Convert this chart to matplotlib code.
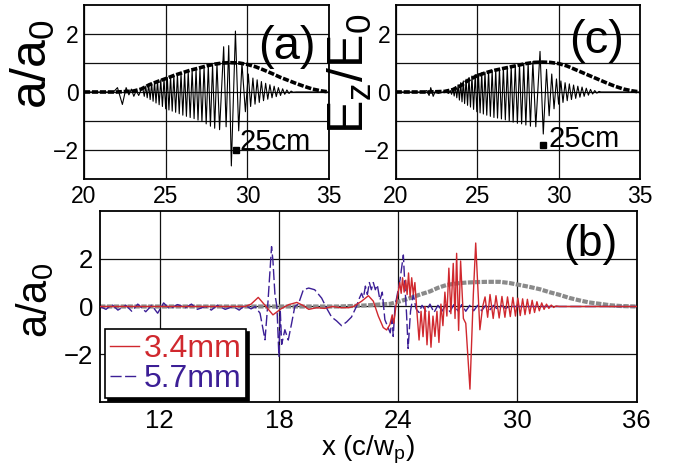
import matplotlib
matplotlib.use("Agg")
import matplotlib.pyplot as plt

plt.rcParams['font.family'] = ['Liberation Sans', 'DejaVu Sans']
plt.rcParams['mathtext.fontset'] = 'custom'
plt.rcParams['mathtext.rm'] = 'Liberation Sans'
plt.rcParams['mathtext.it'] = 'Liberation Sans'
plt.rcParams['mathtext.bf'] = 'Liberation Sans:bold'

# ---------------- Panel (a) data ----------------
a_env_x = [20, 21, 22, 23, 23.5, 24, 24.5, 25, 25.5, 26, 26.5, 27, 27.5, 28, 28.5, 29,
           29.5, 30, 30.5, 31, 31.5, 32, 32.5, 33, 33.5, 34, 34.5, 35]
a_env_y = [0, 0, 0.0, 0.03, 0.1, 0.25, 0.36, 0.46, 0.57, 0.66, 0.75, 0.82, 0.9, 0.96, 1.0, 1.01,
           1.0, 0.95, 0.87, 0.76, 0.64, 0.51, 0.4, 0.29, 0.19, 0.1, 0.04, 0.0]
a_osc_x = [20.0, 21.8, 22.05, 22.35, 22.58, 22.75, 22.9, 23.05, 23.2, 23.35, 23.5,
           23.6, 23.69, 23.78, 23.87, 23.96, 24.05, 24.14, 24.23, 24.32, 24.41, 24.50, 24.60,
           24.70, 24.80, 24.90, 25.00, 25.10, 25.20, 25.30, 25.40, 25.50, 25.61, 25.72, 25.83,
           25.94, 26.05, 26.16, 26.27, 26.38, 26.50, 26.62, 26.74, 26.86, 26.98, 27.10, 27.22,
           27.35, 27.48, 27.61, 27.74, 27.87, 28.00, 28.14, 28.30, 28.55, 28.70, 28.86, 29.02,
           29.27, 29.47, 29.67, 29.88, 30.06, 30.20, 30.34, 30.47, 30.60, 30.73, 30.86, 30.99,
           31.12, 31.25, 31.38, 31.51, 31.64, 31.77, 31.90, 32.03, 32.16, 32.29, 32.42, 32.55,
           32.68, 32.80, 33.0, 35.0]
a_osc_y = [0, 0, 0.15, -0.43, 0.15, -0.1, 0.1, -0.15, 0.05, -0.12, 0.08,
           0.12, -0.15, 0.2, -0.2, 0.26, -0.26, 0.3, -0.32, 0.34, -0.38, 0.38, -0.44,
           0.42, -0.5, 0.46, -0.58, 0.5, -0.62, 0.54, -0.66, 0.57, -0.7, 0.6, -0.75,
           0.64, -0.8, 0.67, -0.84, 0.7, -0.88, 0.74, -0.92, 0.78, -0.97, 0.82, -1.02,
           0.86, -1.1, 0.9, -1.18, 0.94, -1.25, 0.98, -1.3, 1.56, -1.2, 1.6, -2.55,
           2.1, -1.34, 0.99, -0.68, 0.62, -0.5, 0.48, -0.42, 0.42, -0.36, 0.36, -0.3,
           0.3, -0.25, 0.25, -0.2, 0.2, -0.16, 0.15, -0.12, 0.11, -0.08, 0.07, -0.05,
           0.03, -0.01, 0, 0]
a_mark = (29.3, -1.99)

# ---------------- Panel (c) data ----------------
c_env_x = [20, 21, 22, 23, 23.5, 24, 24.5, 25, 25.5, 26, 26.5, 27, 27.5, 28, 28.5, 29,
           29.5, 30, 30.5, 31, 31.5, 32, 32.5, 33, 33.5, 34, 34.5, 35]
c_env_y = [0, 0, 0, 0.02, 0.08, 0.22, 0.42, 0.56, 0.66, 0.74, 0.8, 0.86, 0.92, 0.98, 1.02, 1.03,
           1.02, 0.98, 0.9, 0.78, 0.66, 0.54, 0.42, 0.3, 0.19, 0.1, 0.04, 0.0]
c_osc_x = [20.0, 21.7, 21.9, 22.05, 22.15, 22.3, 22.45, 22.6, 23.0, 23.25,
           23.35, 23.43, 23.51, 23.59, 23.67, 23.75, 23.83, 23.91, 23.99, 24.07, 24.15, 24.23,
           24.32, 24.41, 24.50, 24.59, 24.68, 24.78, 24.88, 24.98, 25.08, 25.18, 25.28, 25.38,
           25.48, 25.59, 25.70, 25.81, 25.92, 26.03, 26.14, 26.25, 26.37, 26.49, 26.61, 26.73,
           26.85, 26.97, 27.09, 27.21, 27.34, 27.47, 27.60, 27.73, 27.86, 27.99, 28.13, 28.27,
           28.42, 28.60, 28.86, 29.06, 29.26, 29.42, 29.58, 29.72, 29.87, 30.00, 30.14, 30.27,
           30.40, 30.53, 30.66, 30.79, 30.92, 31.05, 31.18, 31.31, 31.44, 31.57, 31.70, 31.83,
           31.96, 32.09, 32.22, 32.35, 32.48, 32.6, 35.0]
c_osc_y = [0, 0, 0.05, -0.12, 0.15, -0.15, 0.05, -0.05, 0.02, -0.05,
           0.05, -0.08, 0.12, -0.14, 0.18, -0.2, 0.25, -0.28, 0.32, -0.34, 0.38, -0.4,
           0.44, -0.46, 0.5, -0.52, 0.55, -0.6, 0.6, -0.68, 0.63, -0.72, 0.66, -0.76,
           0.68, -0.8, 0.72, -0.84, 0.75, -0.88, 0.78, -0.9, 0.8, -0.93, 0.83, -0.96,
           0.86, -1.0, 0.89, -1.04, 0.92, -1.08, 0.95, -1.1, 0.98, -1.14, 1.0, -1.18,
           1.05, -1.2, 1.4, -1.45, 0.78, -0.82, 0.62, -0.58, 0.45, -0.42, 0.38, -0.36,
           0.32, -0.3, 0.28, -0.26, 0.24, -0.22, 0.2, -0.18, 0.17, -0.15, 0.13, -0.11,
           0.09, -0.07, 0.05, -0.04, 0.02, 0, 0]
c_mark = (29.06, -1.84)

# ---------------- Panel (b) data ----------------
b_env_x = [9, 20, 21, 22, 22.5, 23, 23.6, 24.1, 24.6, 25.1, 25.6, 26.0, 26.44, 27.0, 27.45,
           28.0, 28.5, 29.1, 29.6, 30.1, 30.6, 31.13, 31.6, 32.1, 32.6, 33.15, 33.6, 34.15,
           34.7, 35.2, 36]
b_env_y = [0, 0, 0.0, 0.03, 0.05, 0.08, 0.11, 0.22, 0.35, 0.5, 0.63, 0.78, 0.9, 0.97, 1.0,
           1.02, 1.03, 1.03, 0.98, 0.9, 0.82, 0.72, 0.6, 0.49, 0.36, 0.25, 0.17, 0.11,
           0.05, 0.02, 0.0]
red_x = [9.0, 16.3, 16.6, 16.96, 17.3, 17.7, 18.1, 18.5, 18.9, 19.2, 19.5, 19.9, 20.3, 20.7,
         21.1, 21.5, 21.75, 22.16, 22.5, 22.75, 23.0, 23.25, 23.42, 23.58, 23.7, 23.78, 23.9,
         24.0, 24.08, 24.15, 24.22, 24.3, 24.38, 24.45, 24.52, 24.6, 24.68, 24.76, 24.84,
         24.95, 25.05, 25.15, 25.25, 25.35, 25.45, 25.55, 25.65, 25.75, 25.85, 25.95, 26.05,
         26.15, 26.25, 26.35, 26.45, 26.55, 26.65, 26.77, 26.86, 26.94, 27.04, 27.14, 27.28,
         27.4, 27.61, 27.78, 27.9, 28.11, 28.25, 28.37, 28.5, 28.62, 28.78, 28.92, 29.08,
         29.22, 29.37, 29.5, 29.64, 29.77, 29.9, 30.02, 30.14, 30.26, 30.38, 30.5, 30.62,
         30.74, 30.86, 30.98, 31.1, 31.22, 31.34, 31.46, 31.58, 31.7, 31.82, 31.94, 32.1, 36.0]
red_y = [0, 0, 0.1, 0.38, 0.05, -0.35, -0.1, 0.08, 0.17, 0.05, -0.12, -0.05, -0.08, 0.0,
         -0.05, -0.05, 0.0, 0.22, 0.45, 0.22, -0.4, -0.88, -0.98, -0.76, -0.35, -0.7, 0.1,
         0.6, 1.0, 0.55, 1.2, 0.6, 1.1, 0.5, 1.4, 0.4, 1.2, 0.5, 1.0,
         -0.3, -1.4, -0.2, -1.26, 0.0, -1.6, -0.2, -1.7, -0.4, -1.25, -0.2, -1.5,
         0.1, -0.8, 0.6, -0.4, 1.6, -0.3, 1.8, -0.5, 2.22, -1.0, 1.9, -0.5,
         -0.7, -3.45, 0.5, 2.65, -0.97, 0.0, 0.4, -0.45, 0.5, -0.5, 0.45, -0.48,
         0.42, -0.45, 0.4, -0.42, 0.38, -0.4, 0.35, -0.38, 0.32, -0.34, 0.3, -0.3,
         0.26, -0.25, 0.2, -0.18, 0.15, -0.12, 0.1, -0.08, 0.06, -0.04, 0.02, 0, 0]
blue_x = [9.0, 9.3, 9.6, 9.9, 10.3, 10.6, 10.9, 11.3, 11.6, 11.9, 12.2, 12.5, 12.9, 13.3,
          13.6, 13.9, 14.3, 14.6, 14.9, 15.3, 15.7, 16.0, 16.3, 16.6, 16.8, 17.05, 17.3,
          17.45, 17.63, 17.7, 17.8, 17.9, 18.0, 18.07, 18.14, 18.3, 18.47, 18.64, 18.8,
          18.98, 19.23, 19.5, 19.8, 20.15, 20.4, 20.65, 20.9, 21.15, 21.4, 21.65, 21.9,
          22.05, 22.16, 22.25, 22.35, 22.45, 22.55, 22.65, 22.75, 22.85, 22.95, 23.08, 23.2,
          23.33, 23.6, 23.7, 23.75, 23.84, 24.0, 24.09, 24.26, 24.34, 24.42, 24.5, 24.62,
          24.76, 24.9, 25.05, 25.2, 25.4, 25.6, 25.8, 26.0, 26.2, 26.4, 26.6, 26.8, 27.0,
          27.2, 27.4, 27.6, 27.8, 28.0, 28.2, 28.4, 28.6, 28.8, 29.0, 29.2, 29.4, 29.6, 36.0]
blue_y = [0.0, -0.12, 0.08, -0.15, 0.05, -0.2, 0.1, -0.22, 0.05, -0.28, 0.15, -0.1, 0.08,
          -0.05, 0.1, -0.12, 0.0, -0.15, 0.05, -0.12, 0.0, -0.15, 0.05, -0.1, 0.0, -0.28,
          -1.39, 0.2, 2.5, 1.9, 0.5, 0.0, -2.08, -0.2, -1.58, -0.97, -1.4, -0.7, 0.0,
          0.1, 0.7, 0.77, 0.7, 0.35, -0.07, -0.44, -0.6, -0.8, -0.65, -0.44, 0.0,
          0.35, 0.55, 0.35, 0.85, 0.5, 1.0, 0.7, 1.0, 0.7, 0.9, 0.27, 0.6,
          -0.55, -1.1, -0.5, -1.25, 0.0, 0.7, 1.1, 2.15, 0.83, -0.3, -1.75, -0.2,
          0.5, -0.1, -0.25, 0.05, -0.2, 0.1, -0.25, 0.05, -0.2, 0.08, -0.22, 0.08, -0.18,
          0.08, -0.2, 0.05, -0.18, 0.05, -0.18, 0.05, -0.15, 0.05, -0.12, 0.04, -0.08, 0.0, 0.0]
legend_labels = ["3.4mm", "5.7mm"]

RED = "#d0282e"
BLUE = "#3c1f96"
GRAY = "#8a8a8a"

fig = plt.figure(figsize=(6.73, 4.76), dpi=100)

def style_small(ax, ylabel, lab_xy):
    ax.set_xlim(20, 35)
    ax.set_ylim(-3, 3)
    ax.set_xticks([20, 25, 30, 35])
    ax.set_yticks([-2, 0, 2])
    ax.set_yticks([-1, 1], minor=True)
    ax.grid(True, which='both', color='#111111', lw=0.9, zorder=0)
    ax.tick_params(axis='both', which='both', length=0, labelsize=16.5, pad=4)
    for s in ax.spines.values():
        s.set_linewidth(1.3)
    fig.text(lab_xy[0], lab_xy[1], ylabel, rotation=90, fontsize=36,
             ha='center', va='center')

axa = fig.add_axes([0.1248, 0.624, 0.3641, 0.3655])
axa.plot(a_osc_x, a_osc_y, color='black', lw=0.8, zorder=2)
axa.plot(a_env_x, a_env_y, color='black', lw=2.6, dashes=(1.7, 0.5), zorder=3)
axa.plot([a_mark[0]], [a_mark[1]], 's', color='black', ms=5, zorder=4)
axa.text(29.55, -1.74, "25cm", fontsize=21, ha='left', va='center', zorder=5)
axa.text(32.45, 1.56, "(a)", fontsize=34, ha='center', va='center', zorder=5)
style_small(axa, r"a/a$_\mathrm{0}$", (33 / 673, 1 - 64 / 476))

axc = fig.add_axes([0.588, 0.624, 0.363, 0.3655])
axc.plot(c_osc_x, c_osc_y, color='black', lw=0.8, zorder=2)
axc.plot(c_env_x, c_env_y, color='black', lw=2.6, dashes=(1.7, 0.5), zorder=3)
axc.plot([c_mark[0]], [c_mark[1]], 's', color='black', ms=5, zorder=4)
axc.text(29.35, -1.62, "25cm", fontsize=21, ha='left', va='center', zorder=5)
axc.text(32.34, 1.75, "(c)", fontsize=34, ha='center', va='center', zorder=5)
style_small(axc, r"E$_\mathrm{z}$/E$_\mathrm{0}$", (350 / 673, 1 - 74 / 476))

axb = fig.add_axes([0.1486, 0.1548, 0.7975, 0.4026])
axb.plot(b_env_x, b_env_y, color=GRAY, lw=3.0, dashes=(1.3, 0.35), zorder=2)
lb, = axb.plot(blue_x, blue_y, color=BLUE, lw=1.0, dashes=(8, 2.5), zorder=3,
               label=legend_labels[1])
lr, = axb.plot(red_x, red_y, color=RED, lw=1.0, zorder=4, label=legend_labels[0])
axb.set_xlim(9, 36)
axb.set_ylim(-4, 4)
axb.set_xticks([12, 18, 24, 30, 36])
axb.set_yticks([-2, 0, 2])
axb.grid(True, color='#111111', lw=0.9, zorder=0)
axb.tick_params(axis='both', length=0, labelsize=18.5, pad=5)
for s in axb.spines.values():
    s.set_linewidth(1.3)
axb.set_xlabel(r"x (c/w$_\mathrm{p}$)", fontsize=20, labelpad=0)
axb.text(33.65, 2.57, "(b)", fontsize=32, ha='center', va='center', zorder=5)
fig.text(35 / 673, 1 - 300 / 476, r"a/a$_\mathrm{0}$", rotation=90, fontsize=30,
         ha='center', va='center')
leg = axb.legend(handles=[lr, lb], loc='lower left', bbox_to_anchor=(0.01, 0.02),
                 borderaxespad=0, fontsize=23, handlelength=0.9, handletextpad=0.15,
                 borderpad=0.15, labelspacing=0.0, fancybox=False, framealpha=1,
                 edgecolor='black', shadow={'color': 'black', 'alpha': 1, 'ox': 2, 'oy': -2})
leg.get_frame().set_linewidth(1.2)
for t, c in zip(leg.get_texts(), [RED, BLUE]):
    t.set_color(c)

fig.savefig("out.png", dpi=100)
